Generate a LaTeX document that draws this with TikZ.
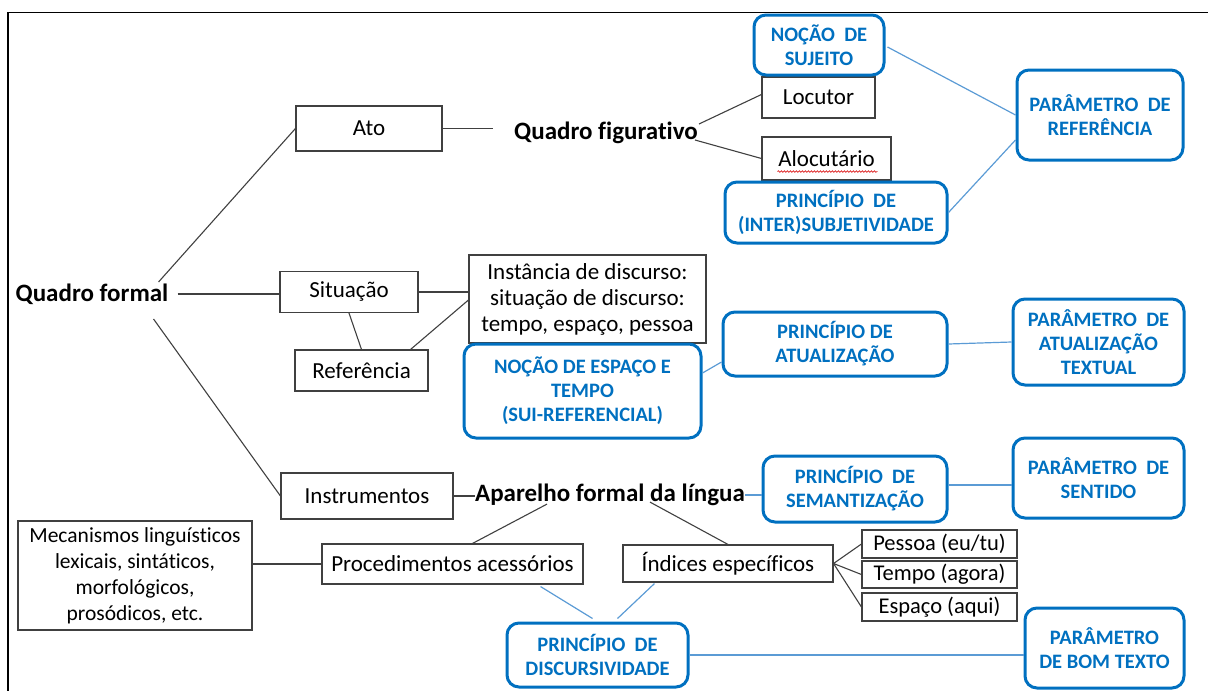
\documentclass[tikz,border=0pt]{standalone}
\usepackage{fontspec}
\setmainfont[Ligatures={NoCommon}]{Carlito}
\usetikzlibrary{calc,decorations.pathmorphing}
\definecolor{bblue}{RGB}{0,112,192}
\definecolor{lblue}{RGB}{91,155,213}
\definecolor{dgray}{RGB}{64,64,64}
\begin{document}
\begin{tikzpicture}[x=1pt,y=-1pt,
 bbox/.style={draw=dgray,line width=1.1pt,inner sep=0pt,align=center,font=\fontsize{23}{26}\selectfont},
 btxt/.style={inner sep=0pt,font=\fontsize{25}{30}\selectfont\bfseries},
 pbox/.style={draw=bblue,line width=3pt,rounded corners=12pt,inner sep=0pt,align=center,text=bblue,font=\fontsize{20.5}{24}\selectfont\bfseries},
 bline/.style={draw=dgray,line width=1.1pt},
 lline/.style={draw=lblue,line width=1.2pt}]
\useasboundingbox (0,0) rectangle (1208,691);
% frame
\draw[line width=1.5pt] (8,691) -- (8,12.5) -- (1208,12.5);

% black boxes
\node[bbox,minimum width=146pt,minimum height=45pt] (ato) at (369,128.5) {Ato};
\node[bbox,minimum width=113pt,minimum height=41pt] (locutor) at (818.5,97.5) {Locutor};
\node[bbox,minimum width=129pt,minimum height=43pt] (alocutario) at (826.5,158.5) {Alocutário};
\node[bbox,minimum width=138pt,minimum height=41pt] (situacao) at (349,292) {Situação};
\node[bbox,minimum width=133pt,minimum height=41pt] (referencia) at (361.5,370.5) {Referência};
\node[bbox,minimum width=237pt,minimum height=88pt] (instancia) at (587.5,299) {Instância de discurso:\\situação de discurso:\\tempo, espaço, pessoa};
\node[bbox,minimum width=172pt,minimum height=46pt] (instrumentos) at (367,496) {Instrumentos};
\node[bbox,minimum width=234pt,minimum height=109pt,font=\fontsize{21.5}{26}\selectfont] (mecanismos) at (135,575.5) {Mecanismos linguísticos\\lexicais, sintáticos,\\morfológicos,\\prosódicos, etc.};
\node[bbox,minimum width=261pt,minimum height=40pt] (proced) at (452.5,564) {Procedimentos acessórios};
\node[bbox,minimum width=210pt,minimum height=37pt] (indices) at (728,563.5) {Índices específicos};
\node[bbox,minimum width=155pt,minimum height=28pt,font=\fontsize{22.5}{26}\selectfont] (pessoa) at (939.5,544) {Pessoa (eu/tu)};
\node[bbox,minimum width=155pt,minimum height=27pt,font=\fontsize{22.5}{26}\selectfont] (tempo) at (939.5,574.5) {Tempo (agora)};
\node[bbox,minimum width=155pt,minimum height=28pt,font=\fontsize{22.5}{26}\selectfont] (espaco) at (939.5,607) {Espaço (aqui)};

% bold texts
\node[btxt] (qformal) at (92,294) {Quadro formal};
\node[btxt] (qfig) at (606,133) {Quadro figurativo};
\node[btxt] (aparelho) at (610,495) {Aparelho formal da língua};

% blue boxes
\node[pbox,minimum width=130pt,minimum height=60pt] (nsujeito) at (819,45) {NOÇÃO\ \ DE\\SUJEITO};
\node[pbox,minimum width=222pt,minimum height=61pt] (pinter) at (836,212.5) {PRINCÍPIO\ \ DE\\(INTER)SUBJETIVIDADE};
\node[pbox,minimum width=166pt,minimum height=90pt] (pref) at (1100,115) {PARÂMETRO\ \ DE\\REFERÊNCIA};
\node[pbox,minimum width=237pt,minimum height=94pt] (nespaco) at (582.5,391) {NOÇÃO DE ESPAÇO E\\TEMPO\\(SUI-REFERENCIAL)};
\node[pbox,minimum width=224pt,minimum height=64pt] (patual) at (835,344) {PRINCÍPIO DE\\ATUALIZAÇÃO};
\node[pbox,minimum width=171pt,minimum height=86pt] (paratual) at (1098.5,342) {PARÂMETRO\ \ DE\\ATUALIZAÇÃO\\TEXTUAL};
\node[pbox,minimum width=184pt,minimum height=66pt] (psem) at (855,489) {PRINCÍPIO\ \ DE\\SEMANTIZAÇÃO};
\node[pbox,minimum width=171pt,minimum height=80pt] (psentido) at (1098.5,478) {PARÂMETRO\ \ DE\\SENTIDO};
\node[pbox,minimum width=181pt,minimum height=64pt] (pdisc) at (597.5,655) {PRINCÍPIO\ \ DE\\DISCURSIVIDADE};
\node[pbox,minimum width=159pt,minimum height=80pt] (pbom) at (1104.5,648) {PARÂMETRO\\DE BOM TEXTO};

% red spell-check squiggle
\draw[red!85!black,line width=0.6pt,decorate,decoration={snake,amplitude=0.8pt,segment length=3pt}]
  ($(alocutario.south west)+(16,-9)$) -- ($(alocutario.south east)+(-14,-9)$);

% black connectors
\coordinate (atoend) at (493,128.5);
\draw[bline] ($(qformal.east)+(-10,-12)$) -- (ato.west);
\draw[bline] ($(qformal.east)+(9,0)$) -- (situacao.west |- qformal.east);
\draw[bline] ($(qformal.east)+(-15,25)$) -- (instrumentos.west);
\draw[bline] (ato.east) -- (atoend);
\draw[bline] ($(qfig.east)+(1,-9)$) -- ($(locutor.west)+(0,-3)$);
\draw[bline] ($(qfig.east)+(-3,7)$) -- (alocutario.west);
\draw[bline] (situacao.south) -- (referencia.north);
\draw[bline] (situacao.east) -- (situacao.east -| instancia.west);
\draw[bline] ($(referencia.north east)+(-18,0)$) -- ($(instancia.west)+(0,1)$);
\draw[bline] (instrumentos.east) -- (instrumentos.east -| aparelho.west);
\draw[bline] ($(aparelho.south)+(-63,-2)$) -- ($(proced.north)+(20,0)$);
\draw[bline] ($(aparelho.south)+(40,-4)$) -- (indices.north);
\draw[bline] (proced.west -| mecanismos.east) -- (proced.west);
\draw[bline] (indices.east) -- (pessoa.west);
\draw[bline] (indices.east) -- (tempo.west);
\draw[bline] (indices.east) -- (espaco.west);

% blue connectors
\draw[lline] ($(nsujeito.east)+(2,2)$) -- (pref.west);
\draw[lline] (pinter.east) -- ($(pref.west)+(0,25)$);
\draw[lline] ($(nespaco.east)+(0,-18)$) -- ($(patual.west)+(0,18)$);
\draw[lline] (patual.east) -- (paratual.west);
\draw[lline] (aparelho.east) -- (aparelho.east -| psem.west);
\draw[lline] ($(psem.east)+(0,-4)$) -- ($(psem.east -| psentido.west)+(0,-4)$);
\draw[lline] ($(proced.south east)+(-43,2)$) -- ($(pdisc.north)+(-5,-3)$);
\draw[lline] ($(indices.south west)+(32,1)$) -- ($(pdisc.north)+(20,-3)$);
\draw[lline] (pdisc.east) -- (pdisc.east -| pbom.west);
\end{tikzpicture}
\end{document}
